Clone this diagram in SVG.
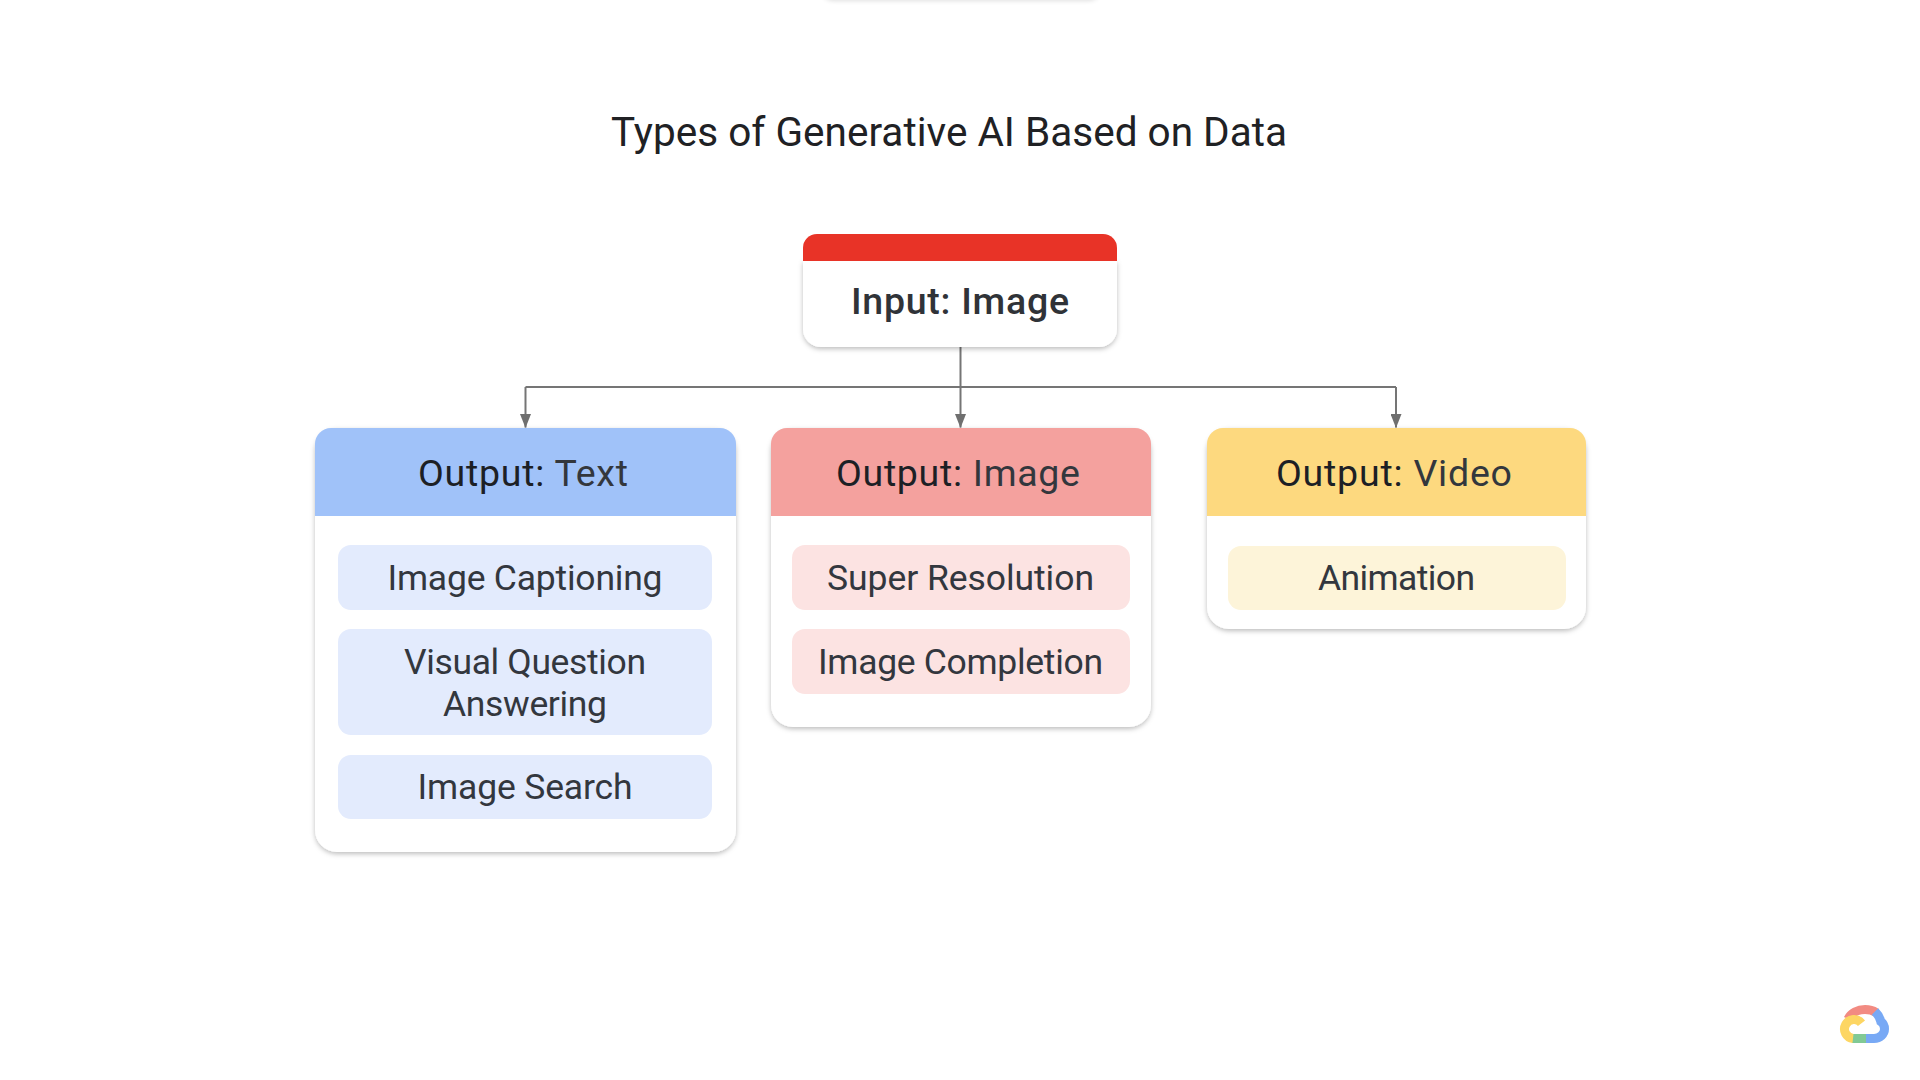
<svg xmlns="http://www.w3.org/2000/svg" width="1920" height="1080" viewBox="0 0 1920 1080">
<style>
text{font-family:"Roboto","Liberation Sans",sans-serif;text-anchor:middle}
.title{font-size:40.5px;fill:#202124}
.input{font-size:37.5px;font-weight:500;fill:#303338}
.head{font-size:37.5px;fill:#1c2025}
.sub{fill:#33373d}
.item{font-size:35.5px;fill:#33373e}
.conn{fill:none;stroke:#757575;stroke-width:2}
.logo{fill:none;stroke-width:9}
</style>
<defs>
<filter id="sh" x="-10%" y="-10%" width="120%" height="120%"><feDropShadow dx="0" dy="2" stdDeviation="2.4" flood-color="#000" flood-opacity=".26"/></filter>
<filter id="sh2" x="-10%" y="-10%" width="120%" height="130%"><feDropShadow dx="0" dy="1" stdDeviation="2" flood-color="#000" flood-opacity=".12"/></filter>
<marker id="arr" markerUnits="userSpaceOnUse" markerWidth="14" markerHeight="11" refX="13.5" refY="5.500" orient="auto" viewBox="0 0 14 11"><path d="M0 0L14 5.500L0 11Z" fill="#6f6f6f"/></marker>
</defs>
<rect width="1920" height="1080" fill="#fff"/>
<rect id="offscreen-card" x="820" y="-60" width="282" height="60" rx="14" fill="#fff" filter="url(#sh2)"/>
<text class="title" x="949" y="146" textLength="676" lengthAdjust="spacing">Types of Generative AI Based on Data</text>
<g id="connectors">
<path class="conn" d="M960.500 347V427.500" marker-end="url(#arr)"/>
<path class="conn" d="M525.500 387H1396"/>
<path class="conn" d="M525.500 387V427.500" marker-end="url(#arr)"/>
<path class="conn" d="M1396 387V427.500" marker-end="url(#arr)"/>
</g>
<g id="input-image">
<path d="M803 261H1117V329a18 18 0 0 1-18 18H821a18 18 0 0 1-18-18Z" fill="#fff" filter="url(#sh)"/>
<path d="M803 261V248a14 14 0 0 1 14-14H1103a14 14 0 0 1 14 14V261Z" fill="#e83327"/>
<text class="input" x="960" y="314" textLength="218">Input: Image</text>
</g>
<g id="output-text">
<rect x="315" y="428" width="421" height="424" rx="22" fill="#fff" filter="url(#sh)"/>
<path d="M315 516V444a16 16 0 0 1 16-16H720a16 16 0 0 1 16 16V516Z" fill="#a0c2f9"/>
<text class="head" x="523" y="485.500" textLength="210">Output: <tspan class="sub">Text</tspan></text>
<g id="image-captioning"><rect x="338" y="545" width="374" height="65" rx="13" fill="#e3ebfd"/><text class="item" x="525" y="590" textLength="275">Image Captioning</text></g>
<g id="visual-question"><rect x="338" y="629" width="374" height="106" rx="13" fill="#e3ebfd"/><text class="item" x="525" y="674" textLength="242">Visual Question</text><text class="item" x="525" y="715.500" textLength="164">Answering</text></g>
<g id="image-search"><rect x="338" y="755" width="374" height="64" rx="13" fill="#e3ebfd"/><text class="item" x="525" y="799" textLength="215">Image Search</text></g>
</g>
<g id="output-image">
<rect x="771" y="428" width="380" height="299" rx="22" fill="#fff" filter="url(#sh)"/>
<path d="M771 516V444a16 16 0 0 1 16-16H1135a16 16 0 0 1 16 16V516Z" fill="#f4a19e"/>
<text class="head" x="958" y="485.500" textLength="244">Output: <tspan class="sub">Image</tspan></text>
<g id="super-resolution"><rect x="792" y="545" width="338" height="65" rx="13" fill="#fce3e2"/><text class="item" x="960.500" y="590" textLength="267">Super Resolution</text></g>
<g id="image-completion"><rect x="792" y="629" width="338" height="65" rx="13" fill="#fce3e2"/><text class="item" x="960.500" y="674" textLength="285">Image Completion</text></g>
</g>
<g id="output-video">
<rect x="1207" y="428" width="379" height="201" rx="22" fill="#fff" filter="url(#sh)"/>
<path d="M1207 516V444a16 16 0 0 1 16-16H1570a16 16 0 0 1 16 16V516Z" fill="#fdd97f"/>
<text class="head" x="1394" y="485.500" textLength="236">Output: <tspan class="sub">Video</tspan></text>
<g id="animation"><rect x="1228" y="546" width="338" height="64" rx="13" fill="#fdf4d9"/><text class="item" x="1396.500" y="590" textLength="157">Animation</text></g>
</g>
<g id="cloud-logo" class="logo">
<path d="M1848 1019C1851 1013 1858 1009.500 1865 1009.500C1869 1009.500 1873 1010.500 1876 1012.500" stroke="#f28b82"/>
<path d="M1875 1011.500C1878.500 1015 1880 1018 1880.800 1021.500C1883 1023 1884.500 1026 1884.500 1029C1884.500 1034 1880 1038.500 1874 1038.500H1866" stroke="#78a9f5"/>
<path d="M1866 1038.500H1852" stroke="#81c995"/>
<path d="M1861.500 1023.200A9.500 9.500 0 1 0 1853 1038.500" stroke="#fdd663"/>
</g>
</svg>
